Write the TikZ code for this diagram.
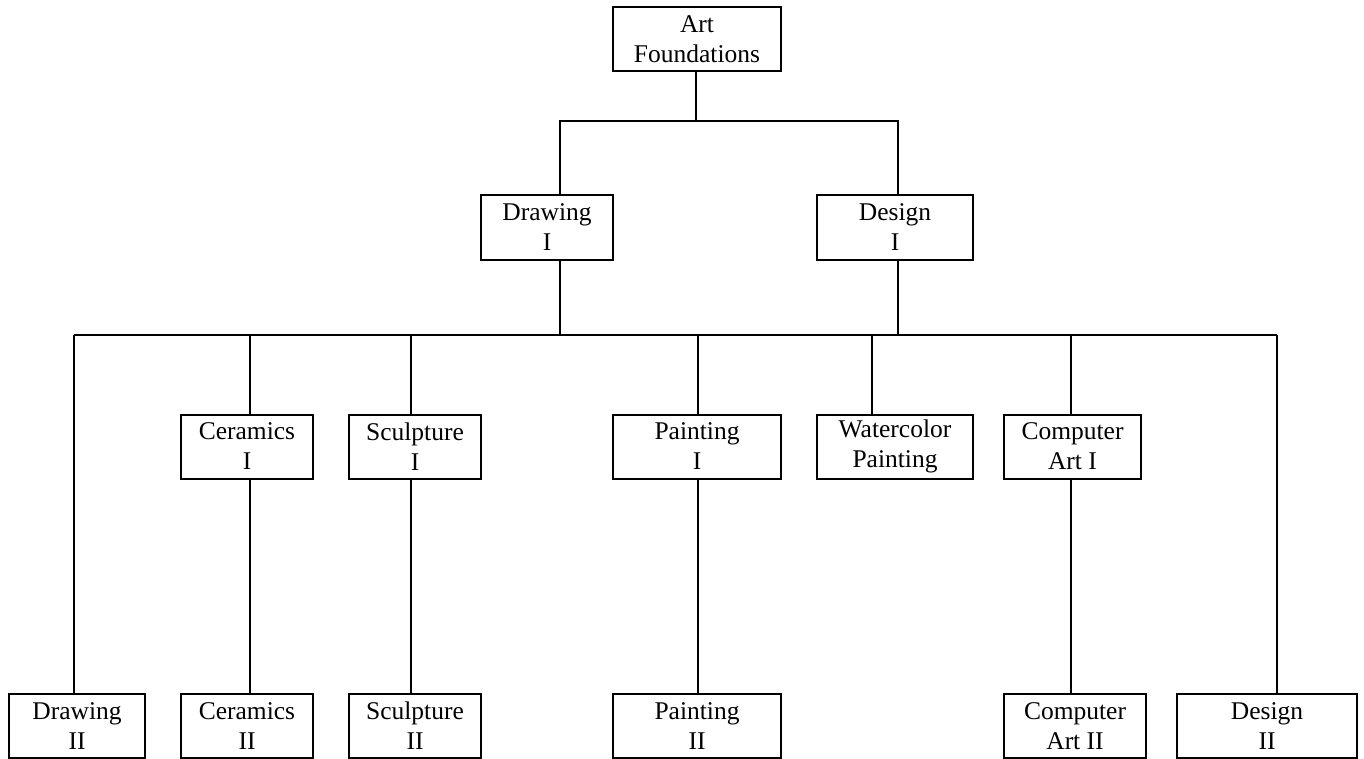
\documentclass[tikz,border=0pt]{standalone}
\usepackage{fontspec}
\setmainfont{Liberation Serif}
\usetikzlibrary{positioning,calc}

\begin{document}
\begin{tikzpicture}[x=1pt,y=-1pt,
    box/.style={draw,line width=2pt,align=center,inner sep=0pt,minimum height=64pt,
      font=\fontsize{25.5}{30}\selectfont},
    link/.style={line width=1.5pt}]
    \useasboundingbox (0,0) rectangle (1364,759);
    % Boxes
    \foreach \n/\cx/\cy/\w/\t in {found/697/39.5/168/{Art\\Foundations},
        drawI/547/227.5/132/{Drawing\\I}, designI/895/227.5/156/{Design\\I},
        cerI/247/446.5/132/{Ceramics\\I}, sculI/415/446.5/132/{Sculpture\\I},
        paintI/697/446.5/168/{Painting\\I}, water/895/446.5/156/{Watercolor\\Painting},
        compI/1072.5/446.5/137/{Computer\\Art I},
        drawII/77/726/136/{Drawing\\II}, cerII/247/726/132/{Ceramics\\II},
        sculII/415/726/132/{Sculpture\\II}, paintII/697/726/168/{Painting\\II},
        compII/1075/726/142/{Computer\\Art II}, designII/1267/726/180/{Design\\II}} {
        \node[box,minimum width=\w pt] (\n) at (\cx,\cy) {\t};
    }
    % Upper bar
    \coordinate (hubA) at (696,121);
    \coordinate (jDr) at (560,121);
    \coordinate (jDe) at (898,121);
    \draw[link] (found.south -| hubA) -- (hubA);
    \draw[link] (drawI.north -| jDr) -- (jDr) -- (jDe) -- (designI.north -| jDe);
    % Lower bar
    \foreach \c/\x in {b1/74, b2/250, b3/411, b4/698, b5/872, b6/1071, b7/1277} {
        \coordinate (\c) at (\x,335);
    }
    \coordinate (jDrB) at (560,335);
    \coordinate (jDeB) at (898,335);
    \draw[link] (b1) -- (b7);
    \draw[link] (drawI.south -| jDrB) -- (jDrB);
    \draw[link] (designI.south -| jDeB) -- (jDeB);
    \foreach \c/\n in {b1/drawII, b2/cerI, b3/sculI, b4/paintI, b5/water, b6/compI, b7/designII} {
        \draw[link] (\c) -- (\c |- \n.north);
    }
    % Second level
    \foreach \c/\a/\b in {b2/cerI/cerII, b3/sculI/sculII, b4/paintI/paintII, b6/compI/compII} {
        \draw[link] (\a.south -| \c) -- (\c |- \b.north);
    }
\end{tikzpicture}
\end{document}
